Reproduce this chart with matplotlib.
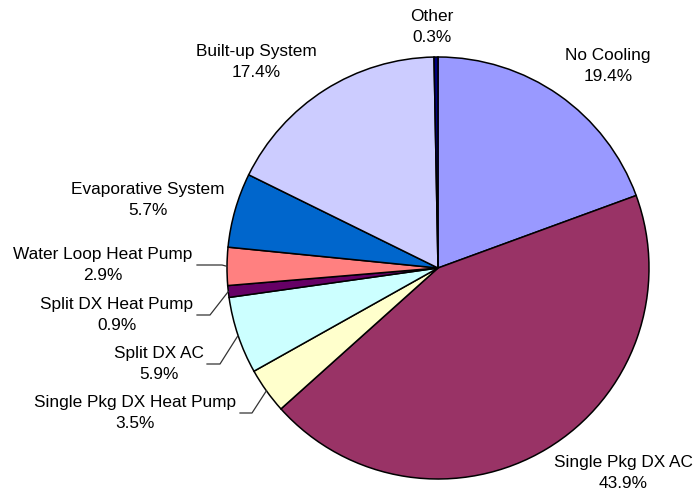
import numpy as np
import matplotlib
matplotlib.use('Agg')
import matplotlib.pyplot as plt

plt.rcParams['font.family'] = ['Liberation Sans', 'DejaVu Sans']

# cooling system shares, clockwise from the top
labels = ['No Cooling', 'Single Pkg DX AC', 'Single Pkg DX Heat Pump', 'Split DX AC',
          'Split DX Heat Pump', 'Water Loop Heat Pump', 'Evaporative System',
          'Built-up System', 'Other']
shares = [19.4, 43.9, 3.5, 5.9, 0.9, 2.9, 5.7, 17.4, 0.3]
colors = ['#9999FF', '#993366', '#FFFFCC', '#CCFFFF', '#660066',
          '#FF8080', '#0066CC', '#CCCCFF', '#000080']

W, H = 693, 493
fig = plt.figure(figsize=(W / 100, H / 100), dpi=100)
ax = fig.add_axes([0, 0, 1, 1])

cx, cy, r = 438, H - 268, 211
ax.pie(shares, colors=colors, startangle=90, counterclock=False,
       center=(cx, cy), radius=r,
       wedgeprops=dict(edgecolor='black', linewidth=1.1))
ax.set_xlim(0, W)
ax.set_ylim(0, H)
ax.set_aspect('equal')
ax.axis('off')

# label centres in pixels (from top), and optional leader elbow
label_pos = {
    'No Cooling': (608, 66, None),
    'Single Pkg DX AC': (623, 473, None),
    'Single Pkg DX Heat Pump': (135, 413, (240, 252)),
    'Split DX AC': (159, 364, (207, 220)),
    'Split DX Heat Pump': (117, 315, (197, 210)),
    'Water Loop Heat Pump': (103, 265, (197, 222)),
    'Evaporative System': (148, 200, None),
    'Built-up System': (256, 62, None),
    'Other': (432, 27, None),
}

total = sum(shares)
cum = 0
for name, val in zip(labels, shares):
    mid = (cum + val / 2) / total * 360
    cum += val
    x, y, leader = label_pos[name]
    ax.text(x, H - y, f'{name}\n{val:.1f}%', ha='center', va='center',
            fontsize=12.4, linespacing=1.45, color='black')
    if leader:
        ex = cx + r * np.sin(np.radians(mid))
        ey = cy + r * np.cos(np.radians(mid))
        ax.plot([leader[0], leader[1], ex], [H - y, H - y, ey],
                color='#333333', linewidth=0.9)

fig.savefig('out.png', dpi=100)
